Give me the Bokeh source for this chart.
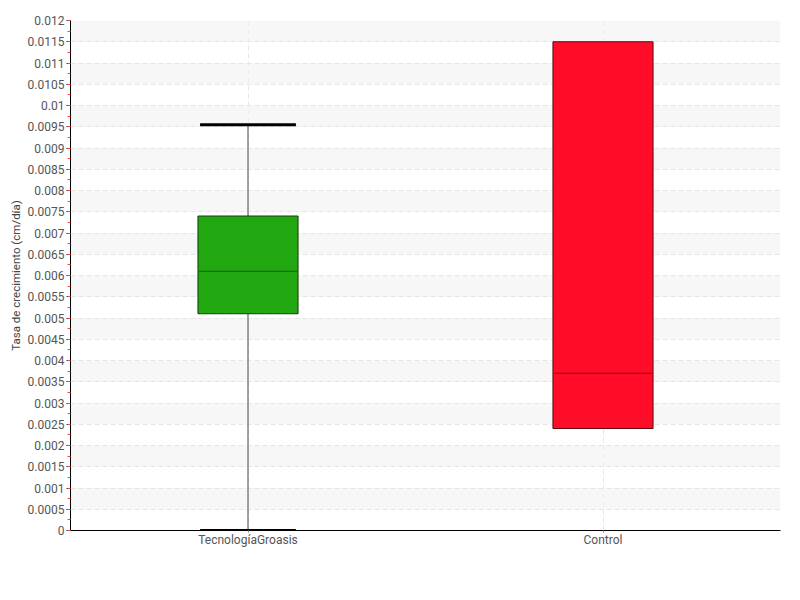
from bokeh.plotting import figure
from bokeh.models import ColumnDataSource, SingleIntervalTicker, CustomJSTickFormatter, Range1d
from bokeh.transform import dodge
from bokeh.embed import file_html
from bokeh.resources import INLINE

categories = ["TecnologíaGroasis", "Control"]
q1 = [0.0051, 0.0024]
median = [0.0061, 0.0037]
q3 = [0.0074, 0.0115]
lower = [0.0, 0.0024]
upper = [0.00955, 0.0115]
colors = ["#21a70f", "#ff0d28"]
edge_colors = ["#1a3d12", "#5a0a10"]
median_colors = ["#1c5e12", "#8a0916"]

FONT = "Roboto"

p = figure(x_range=categories, y_range=Range1d(0, 0.012),
           frame_width=710, frame_height=510,
           min_border_left=70, min_border_right=12, min_border_top=20, min_border_bottom=62,
           output_backend="svg", toolbar_location=None)
p.outline_line_color = None
p.background_fill_color = "white"

src = ColumnDataSource(dict(cat=categories, q1=q1, med=median, q3=q3,
                            lo=lower, hi=upper, color=colors, edge=edge_colors, mc=median_colors))

# whiskers
wl = [c for c, a, b in zip(categories, q1, lower) if a != b]
wsrc_lo = ColumnDataSource(dict(cat=wl,
                                y0=[a for a, b in zip(q1, lower) if a != b],
                                y1=[b for a, b in zip(q1, lower) if a != b]))
wu = [c for c, a, b in zip(categories, q3, upper) if a != b]
wsrc_hi = ColumnDataSource(dict(cat=wu,
                                y0=[a for a, b in zip(q3, upper) if a != b],
                                y1=[b for a, b in zip(q3, upper) if a != b]))
for s in (wsrc_lo, wsrc_hi):
    p.segment(x0="cat", x1="cat", y0="y0", y1="y1", source=s, line_color="#666666", line_width=1.2)
    p.segment(x0=dodge("cat", -0.135, range=p.x_range), x1=dodge("cat", 0.135, range=p.x_range),
              y0="y1", y1="y1", source=s, line_color="black", line_width=3)

p.vbar(x="cat", top="q3", bottom="q1", width=0.282, source=src,
       fill_color="color", line_color="edge", line_width=1)
p.segment(x0=dodge("cat", -0.138, range=p.x_range), x1=dodge("cat", 0.138, range=p.x_range),
          y0="med", y1="med", source=src, line_color="mc", line_width=1.2)

# axes
ticker = SingleIntervalTicker(interval=0.0005, num_minor_ticks=2)
p.yaxis.ticker = ticker
p.yaxis.formatter = CustomJSTickFormatter(code="return parseFloat(tick.toFixed(6)).toString();")
p.yaxis.axis_label = "Tasa de crecimiento (cm/día)"
p.yaxis.axis_label_text_font = FONT
p.yaxis.axis_label_text_font_style = "normal"
p.yaxis.axis_label_text_font_size = "11.5px"
p.yaxis.axis_label_text_color = "#444444"
p.yaxis.axis_label_standoff = 2
p.yaxis.major_label_text_font = FONT
p.yaxis.major_label_text_font_size = "12px"
p.yaxis.major_label_text_color = "#555555"
p.yaxis.major_label_standoff = 2
p.yaxis.major_tick_out = 4
p.yaxis.major_tick_in = 0
p.yaxis.major_tick_line_color = "#333333"
p.yaxis.minor_tick_out = 3
p.yaxis.minor_tick_in = 0
p.yaxis.minor_tick_line_color = "#ff4444"
p.yaxis.axis_line_color = "black"

p.xaxis.major_label_text_font = FONT
p.xaxis.major_label_text_font_size = "12px"
p.xaxis.major_label_text_color = "#555555"
p.xaxis.major_label_standoff = 0
p.xaxis.major_tick_out = 2
p.xaxis.major_tick_in = 0
p.xaxis.major_tick_line_color = "#888888"
p.xaxis.axis_line_color = "black"

p.ygrid.ticker = ticker
p.ygrid.grid_line_color = "#e6e6e6"
p.ygrid.grid_line_dash = "5 3"
p.ygrid.band_fill_color = "#f2f2f2"
p.ygrid.band_fill_alpha = 0.6
p.xgrid.grid_line_color = "#e6e6e6"
p.xgrid.grid_line_dash = "5 3"

open("out.html", "w").write(file_html(p, INLINE))
